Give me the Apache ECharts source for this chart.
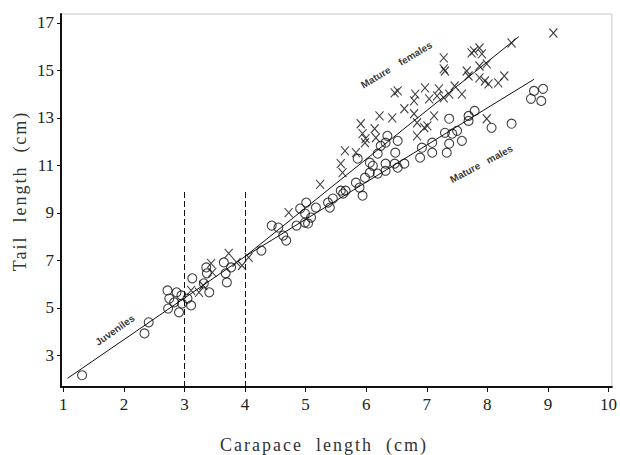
<!DOCTYPE html>
<html>
<head>
<meta charset="utf-8">
<title>Tail length against carapace length</title>
<script src="https://cdn.jsdelivr.net/npm/echarts@6/dist/echarts.min.js"></script>
<style>
  html, body { margin: 0; padding: 0; background: #fff; }
  #chart { width: 620px; height: 455px; }
  /* the printed axis titles are letter-spaced */
  #chart text[style*="Times New Roman"] { letter-spacing: 2px; }
</style>
</head>
<body>
<div id="chart"></div>
<script>
const xTicks = [1, 2, 3, 4, 5, 6, 7, 8, 9, 10];
const yTicks = [3, 5, 7, 9, 11, 13, 15, 17];

// juveniles and mature males (open circles)
const circlePoints = [
  [1.31, 2.16], [2.34, 3.92], [2.41, 4.39],
  [2.72, 5.73], [2.75, 5.39], [2.73, 4.97], [2.87, 5.65], [2.83, 5.23], [2.95, 5.52],
  [2.96, 5.18], [2.91, 4.81], [3.05, 5.39], [3.11, 5.10], [3.13, 6.24],
  [3.32, 6.03], [3.41, 5.65], [3.37, 6.45], [3.36, 6.70],
  [3.65, 6.91], [3.68, 6.45], [3.70, 6.07], [3.77, 6.70],
  [4.27, 7.41], [4.44, 8.46], [4.55, 8.38], [4.63, 8.04], [4.68, 7.83],
  [4.85, 8.46], [4.91, 9.18], [4.99, 8.97], [5.04, 8.55], [5.01, 9.43], [5.09, 8.80],
  [5.17, 9.22], [4.99, 8.59],
  [5.37, 9.43], [5.45, 9.60], [5.40, 9.22], [5.62, 9.81], [5.58, 9.93], [5.66, 9.93],
  [5.83, 10.27], [5.89, 10.06], [5.94, 9.72], [5.98, 10.48], [5.86, 11.28], [6.06, 11.11],
  [6.11, 10.98], [6.06, 10.69], [6.19, 10.65], [6.32, 10.77], [6.52, 10.90], [6.63, 11.07],
  [6.47, 11.07], [6.32, 11.07],
  [6.19, 11.49], [6.24, 11.82], [6.35, 12.24], [6.52, 12.03], [6.48, 11.53], [6.32, 11.95],
  [6.89, 11.32], [7.09, 11.53], [6.92, 11.74], [7.09, 11.95], [7.33, 11.53], [7.37, 11.91],
  [7.30, 12.37], [7.42, 12.33], [7.50, 12.45], [7.58, 12.03], [7.37, 12.96], [7.69, 12.87],
  [7.79, 13.29], [7.69, 13.08],
  [8.07, 12.58], [8.40, 12.75],
  [8.77, 14.13], [8.92, 14.22], [8.72, 13.80], [8.89, 13.71]
];

// mature females (crosses)
const crossPoints = [
  [3.11, 5.73], [3.24, 5.65], [3.31, 5.94], [3.44, 6.87], [3.46, 6.49], [3.73, 7.29],
  [3.86, 6.91], [3.95, 6.78], [4.06, 7.12],
  [4.72, 9.01], [5.24, 10.20],
  [5.58, 11.07], [5.61, 10.69], [5.65, 11.61], [5.83, 11.53],
  [5.91, 12.75], [5.94, 12.33], [5.99, 12.12], [5.98, 11.95], [6.14, 12.54], [6.16, 12.16],
  [6.22, 13.08], [6.43, 13.00], [6.63, 13.38], [6.79, 13.17], [6.84, 12.79], [6.96, 12.58],
  [7.01, 12.66], [7.12, 13.08], [6.84, 12.24],
  [6.47, 14.05], [6.52, 14.13], [6.81, 14.00], [6.79, 13.71], [6.97, 14.26], [7.20, 14.22],
  [7.17, 13.92], [7.04, 13.80], [7.28, 13.84], [7.37, 14.00], [7.46, 14.34], [7.58, 14.00],
  [7.28, 15.52], [7.28, 15.06], [7.30, 14.97], [7.66, 14.97], [7.69, 14.76], [7.87, 14.68],
  [7.96, 14.55], [8.02, 14.43], [8.18, 14.47], [8.28, 14.76],
  [7.74, 15.73], [7.87, 15.94], [7.78, 15.82], [7.91, 15.69], [7.87, 15.18], [7.99, 15.27],
  [8.40, 16.15], [9.09, 16.57],
  [7.99, 12.96]
];

// fitted lines
const juvenileFit = [[1.07, 2.03], [4.0, 7.16]];
const femaleFit = [[4.0, 7.16], [8.52, 16.42]];
const maleFit = [[4.0, 7.16], [8.77, 14.62]];

// dashed boundaries at 3 and 4 cm carapace length
const boundaryX = [3, 4];
const boundaryTop = 9.9;

// in-plot notes: x, y, text, angle
const notes = [
  [6.50, 15.23, 'Mature    females', 31],
  [7.90, 11.06, 'Mature   males', 28],
  [1.85, 4.06, 'Juveniles', 35]
];

const xMin = 0.962, xMax = 10.056;
const yMin = 1.665, yMax = 17.37;

const ink = '#111';
const serif = 'Liberation Serif';
const titleFont = 'Liberation Serif, Times New Roman';

const chart = echarts.init(document.getElementById('chart'), null, { renderer: 'svg' });

chart.setOption({
  animation: false,
  backgroundColor: '#fff',
  grid: {
    left: 61,
    right: 3,
    top: 14,
    bottom: 68,
    show: true,
    borderColor: '#c4c4c4',
    borderWidth: 1
  },
  xAxis: {
    type: 'value',
    min: xMin,
    max: xMax,
    splitLine: { show: false },
    axisLine: { lineStyle: { color: ink, width: 2 } },
    axisTick: { customValues: xTicks, length: 5, lineStyle: { color: ink, width: 1 } },
    axisLabel: {
      customValues: xTicks,
      margin: 9,
      color: '#222',
      fontFamily: serif,
      fontSize: 17
    }
  },
  yAxis: {
    type: 'value',
    min: yMin,
    max: yMax,
    splitLine: { show: false },
    axisLine: { lineStyle: { color: ink, width: 2 } },
    axisTick: { customValues: yTicks, length: 4, lineStyle: { color: ink, width: 1 } },
    axisLabel: {
      customValues: yTicks,
      margin: 7,
      color: '#222',
      fontFamily: serif,
      fontSize: 17
    }
  },
  graphic: [
    {
      type: 'text',
      x: 324,
      y: 445,
      style: {
        text: 'Carapace  length  (cm)',
        font: '18px ' + titleFont,
        fill: '#333',
        textAlign: 'center',
        textVerticalAlign: 'middle'
      }
    },
    {
      type: 'text',
      x: 20,
      y: 191,
      rotation: Math.PI / 2,
      style: {
        text: 'Tail  length  (cm)',
        font: '18px ' + titleFont,
        fill: '#333',
        textAlign: 'center',
        textVerticalAlign: 'middle'
      }
    }
  ],
  series: [
    {
      name: 'Juveniles and mature males',
      type: 'scatter',
      data: circlePoints,
      symbol: 'circle',
      symbolSize: 9,
      itemStyle: { color: 'transparent', borderColor: ink, borderWidth: 1.1 },
      z: 3
    },
    {
      name: 'Mature females',
      type: 'scatter',
      data: crossPoints,
      symbol: 'path://M0,0L10,10M10,0L0,10',
      symbolSize: [8, 9],
      itemStyle: { color: 'transparent', borderColor: ink, borderWidth: 1.1 },
      z: 3
    },
    {
      name: 'Juvenile fit',
      type: 'line',
      data: juvenileFit,
      symbol: 'none',
      lineStyle: { color: ink, width: 1 },
      markLine: {
        silent: true,
        symbol: 'none',
        label: { show: false },
        lineStyle: { color: ink, width: 1, type: [6, 3] },
        data: boundaryX.map((x) => [{ coord: [x, yMin] }, { coord: [x, boundaryTop] }])
      }
    },
    {
      name: 'Female fit',
      type: 'line',
      data: femaleFit,
      symbol: 'none',
      lineStyle: { color: ink, width: 1 }
    },
    {
      name: 'Male fit',
      type: 'line',
      data: maleFit,
      symbol: 'none',
      lineStyle: { color: ink, width: 1 }
    },
    {
      name: 'Notes',
      type: 'scatter',
      silent: true,
      symbolSize: 1,
      itemStyle: { color: 'transparent' },
      data: notes.map((n) => ({
        value: [n[0], n[1]],
        name: n[2],
        label: { rotate: n[3] }
      })),
      label: {
        show: true,
        position: 'inside',
        formatter: '{b}',
        color: '#000',
        fontFamily: 'Liberation Sans',
        fontWeight: 'bold',
        fontSize: 10
      }
    }
  ]
});
</script>
</body>
</html>
